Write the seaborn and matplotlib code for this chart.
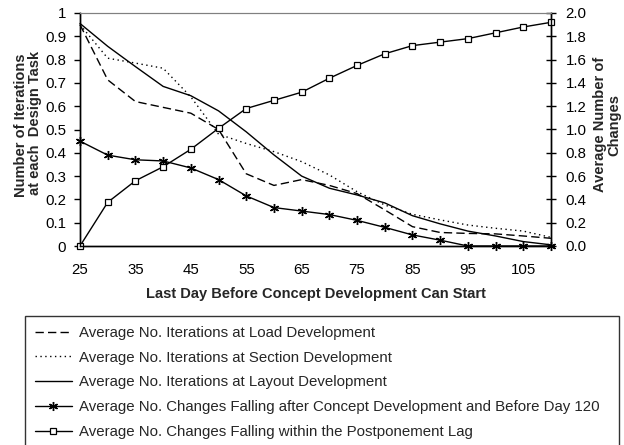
import numpy as np
import pandas as pd
import seaborn as sns
import matplotlib
matplotlib.use("Agg")
import matplotlib.pyplot as plt
from matplotlib.ticker import FixedLocator, FuncFormatter

# ---------------- data ----------------
days = [25, 30, 35, 40, 45, 50, 55, 60, 65, 70, 75, 80, 85, 90, 95, 100, 105, 110]

load_iter = [0.95, 0.713, 0.62, 0.595, 0.57, 0.50, 0.31, 0.26, 0.285, 0.26, 0.225,
             0.155, 0.083, 0.058, 0.054, 0.052, 0.043, 0.033]
section_iter = [0.95, 0.806, 0.785, 0.763, 0.64, 0.48, 0.44, 0.405, 0.362, 0.305, 0.233,
                0.176, 0.136, 0.112, 0.09, 0.076, 0.064, 0.037]
layout_iter = [0.955, 0.857, 0.77, 0.685, 0.645, 0.58, 0.49, 0.391, 0.30, 0.248, 0.219,
               0.185, 0.13, 0.095, 0.064, 0.043, 0.019, 0.005]
changes_before_120 = [0.90, 0.78, 0.74, 0.73, 0.67, 0.57, 0.43, 0.33, 0.30, 0.27, 0.22,
                      0.16, 0.095, 0.05, 0.0, 0.0, 0.0, 0.0]
changes_postponement = [0.0, 0.375, 0.56, 0.68, 0.83, 1.01, 1.18, 1.25, 1.32, 1.44, 1.55,
                        1.65, 1.72, 1.75, 1.78, 1.83, 1.88, 1.92]

labels = [
    "Average No. Iterations at Load Development",
    "Average No. Iterations at Section Development",
    "Average No. Iterations at Layout Development",
    "Average No. Changes Falling after Concept Development and Before Day 120",
    "Average No. Changes Falling within the Postponement Lag",
]
x_ticks = [25, 35, 45, 55, 65, 75, 85, 95, 105]
left_ticks = [0, 0.1, 0.2, 0.3, 0.4, 0.5, 0.6, 0.7, 0.8, 0.9, 1.0]
right_ticks = [0.0, 0.2, 0.4, 0.6, 0.8, 1.0, 1.2, 1.4, 1.6, 1.8, 2.0]

x_label = "Last Day Before Concept Development Can Start"
left_label = "Number of Iterations\n at each  Design Task"
right_label = "Average Number of\nChanges"

# ---------------- style ----------------
sns.set_style("white")
plt.rcParams['font.family'] = ['Liberation Sans', 'DejaVu Sans']

W, H = 624, 445
fig = plt.figure(figsize=(W / 100, H / 100), dpi=100)
ax = fig.add_axes([80 / W, 1 - 246 / H, 471 / W, 233 / H])
ax2 = ax.twinx()

common = dict(color="black", linewidth=1.0, legend=False, clip_on=False)

sns.lineplot(x=days, y=load_iter, ax=ax, linestyle=(0, (6, 3)), label=labels[0], **common)
sns.lineplot(x=days, y=section_iter, ax=ax, linestyle=(0, (1, 2.5)), label=labels[1], **common)
sns.lineplot(x=days, y=layout_iter, ax=ax, linestyle="-", label=labels[2], **common)
sns.lineplot(x=days, y=changes_before_120, ax=ax2, marker=(6, 2, 0), markersize=6.5,
             markeredgewidth=1.0, markeredgecolor="black", label=labels[3], **common)
sns.lineplot(x=days, y=changes_postponement, ax=ax2, marker="s", markersize=5,
             markerfacecolor="white", markeredgecolor="black", markeredgewidth=0.9,
             label=labels[4], **common)

for a in (ax, ax2):
    lg = a.get_legend()
    if lg is not None:
        lg.remove()

ax.set_xlim(25, 110)
ax.set_ylim(0, 1)
ax2.set_ylim(0, 2)

ax.xaxis.set_major_locator(FixedLocator(x_ticks))
ax.yaxis.set_major_locator(FixedLocator(left_ticks))
ax.yaxis.set_major_formatter(FuncFormatter(lambda v, p: f"{v:g}"))
ax2.yaxis.set_major_locator(FixedLocator(right_ticks))
ax2.yaxis.set_major_formatter(FuncFormatter(lambda v, p: f"{v:.1f}"))

ax.tick_params(axis="x", direction="out", length=4, width=1, pad=8, labelsize=10.8, colors="black")
ax.tick_params(axis="y", direction="out", length=4, width=1, pad=6, labelsize=10.8, colors="black")
ax2.tick_params(axis="y", direction="inout", length=7, width=1, pad=7, labelsize=10.8, colors="black")

for a in (ax, ax2):
    for s in a.spines.values():
        s.set_visible(True)
        s.set_color("black")
        s.set_linewidth(1.0)
    a.spines["top"].set_color("#808080")
    a.spines["top"].set_linewidth(0.8)
    a.grid(False)

ax.set_xlabel(x_label, fontsize=10.5, fontweight="bold")
ax.xaxis.set_label_coords(0.5, -0.178)
ax.set_ylabel(left_label, fontsize=10.5, fontweight="bold", linespacing=1.0)
ax.yaxis.set_label_coords(-0.081, 0.52)
ax2.set_ylabel(right_label, fontsize=10.5, fontweight="bold", linespacing=1.0)
ax2.yaxis.set_label_coords(1.089, 0.52)

handles = ax.get_lines() + ax2.get_lines()
leg = fig.legend(handles, labels, loc="upper left",
                 bbox_to_anchor=(25 / W, 1 - 316 / H, (619 - 25) / W, 0.0),
                 mode="expand", frameon=True, fancybox=False, fontsize=10.8,
                 handlelength=2.47, handletextpad=0.5, borderpad=0.65,
                 labelspacing=0.72, numpoints=1, borderaxespad=0)
leg.get_frame().set_edgecolor("black")
leg.get_frame().set_linewidth(1.0)

fig.savefig("out.png", dpi=100)
